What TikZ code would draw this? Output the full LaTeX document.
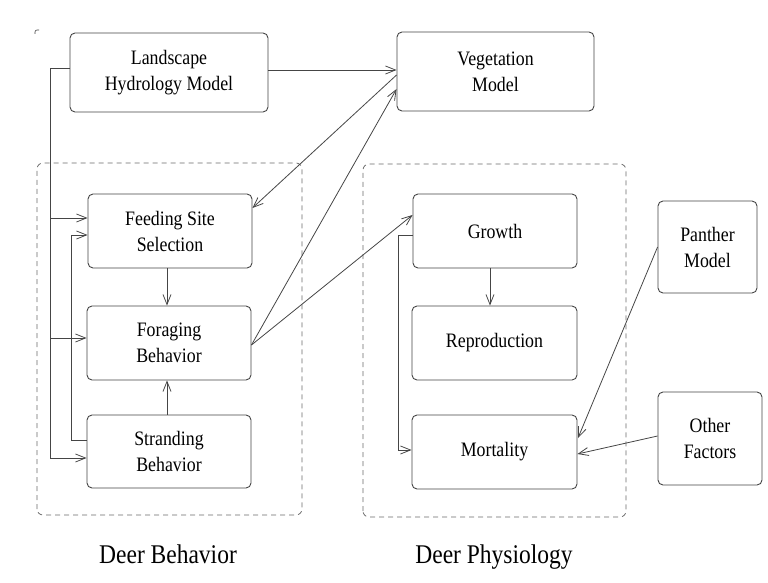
\documentclass[tikz,border=0pt]{standalone}
\usepackage{fontspec}
\setmainfont[FakeStretch=0.87]{Liberation Serif}
\usetikzlibrary{arrows.meta}
\definecolor{ln}{HTML}{454545}
\begin{document}
\begin{tikzpicture}[x=1pt,y=1pt,
  box/.style={draw=ln,line width=0.9pt,rounded corners=5pt,align=center,
    font=\fontsize{20.5}{26}\selectfont,inner sep=0pt},
  grp/.style={draw=ln!80,line width=0.8pt,dash pattern=on 5pt off 4pt,rounded corners=6pt},
  lab/.style={font=\fontsize{27}{30}\selectfont,inner sep=0pt,anchor=base},
  conn/.style={draw=ln,line width=0.8pt},
  arr/.style={conn,-{Straight Barb[length=10pt,width=8pt]}}]
\useasboundingbox (0,0) rectangle (768,582);
% tiny corner marks
\draw[ln,line width=0.6pt] (35,548) -- (35,550) arc (180:90:2) -- (39,552);
% groups
\draw[grp] (37,67) rectangle (302,419);
\draw[grp] (363,65) rectangle (626,418);
\node[lab] (lb) at (168,19) {Deer Behavior};
\node[lab] (lp) at (494,19) {Deer Physiology};
% boxes
\node[box,minimum width=198pt,minimum height=79pt] (land) at (169,509.5) {Landscape\\Hydrology Model};
\node[box,minimum width=197pt,minimum height=79pt] (veg) at (495.5,510.5) {Vegetation\\Model};
\node[box,minimum width=164pt,minimum height=74pt] (feed) at (170,351) {Feeding Site\\Selection};
\node[box,minimum width=164pt,minimum height=74pt] (forg) at (169,239) {Foraging\\Behavior};
\node[box,minimum width=164pt,minimum height=73pt] (stra) at (169,130.5) {Stranding\\Behavior};
\node[box,minimum width=164pt,minimum height=74pt] (grow) at (495,351) {Growth};
\node[box,minimum width=165pt,minimum height=74pt] (repr) at (494.5,239) {Reproduction};
\node[box,minimum width=165pt,minimum height=74pt] (mort) at (494.5,130) {Mortality};
\node[box,minimum width=99pt,minimum height=92pt] (panth) at (707.5,335) {Panther\\Model};
\node[box,minimum width=104pt,minimum height=93pt] (other) at (710,143.5) {Other\\Factors};
% helper coordinates
\coordinate (hl) at (50,514);
\coordinate (hb) at (50,124);
\coordinate (sa) at (71,142);
\coordinate (sb) at (71,347);
\coordinate (ga) at (398,347);
\coordinate (gb) at (398,132);
% connectors
\draw[arr] ([yshift=2.5pt]land.east) -- ([yshift=2.5pt]land.east -| veg.west);
\draw[conn] (land.west |- hl) -- (hl) -- (hb);
\draw[arr] (hb) -- (hb -| stra.west);
\draw[arr] (50,364) -- (feed.west |- 0,364);
\draw[arr] (50,244) -- (forg.west |- 0,244);
\draw[arr] (stra.west |- sa) -- (sa) -- (sb) -- (sb -| feed.west);
\draw[arr] (feed.south -| 167,0) -- (forg.north -| 167,0);
\draw[arr] (stra.north -| 167,0) -- (forg.south -| 167,0);
\draw[arr] (veg.west |- 0,507) -- (feed.east |- 0,374);
\draw[arr] (forg.east |- 0,237) -- (veg.west |- 0,493);
\draw[arr] (forg.east |- 0,237) -- (grow.west |- 0,367);
\draw[arr] (grow.west |- ga) -- (ga) -- (gb) -- (gb -| mort.west);
\draw[arr] (grow.south -| 490,0) -- (repr.north -| 490,0);
\draw[arr] (panth.west |- 0,335) -- (578,144);
\draw[arr] (other.west |- 0,146) -- (mort.east |- 0,128);
\end{tikzpicture}
\end{document}
